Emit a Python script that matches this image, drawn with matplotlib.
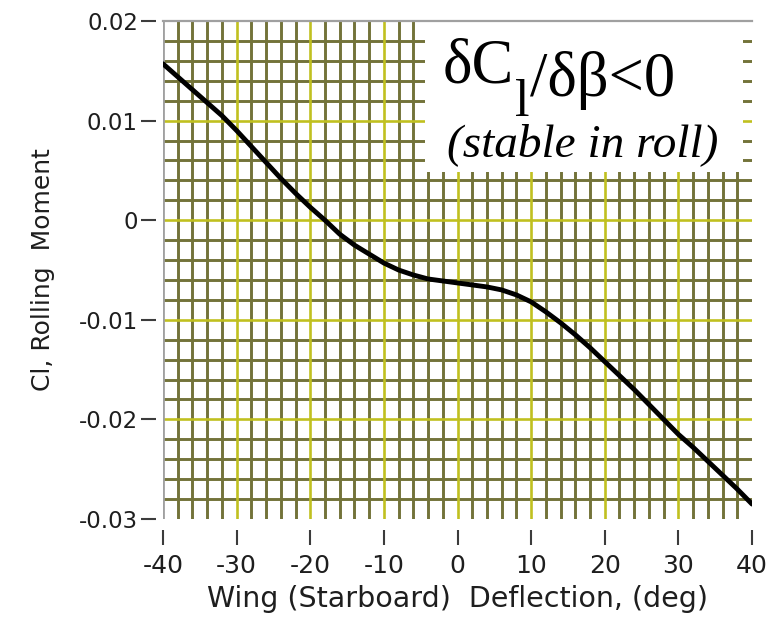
import numpy as np
import matplotlib
matplotlib.use("Agg")
import matplotlib.pyplot as plt
from matplotlib.patches import Rectangle

# Rolling moment coefficient vs. starboard wing deflection
deflection_deg = [-40, -38, -36, -34, -32, -30, -28, -26, -24, -22, -20,
                  -18, -16, -14, -12, -10, -8, -6, -4, -2, 0,
                  2, 4, 6, 8, 10, 12, 14, 16, 18, 20,
                  22, 24, 26, 28, 30, 32, 34, 36, 38, 40]
cl_rolling = [0.0157, 0.0144, 0.0131, 0.0118, 0.0105, 0.0090, 0.0074,
              0.0058, 0.0042, 0.0027, 0.0013,
              0.0000, -0.0014, -0.0025, -0.0034, -0.0043, -0.0050,
              -0.0055, -0.0059, -0.0061, -0.0063,
              -0.0065, -0.0067, -0.0070, -0.0075, -0.0082, -0.0092,
              -0.0103, -0.0115, -0.0128, -0.0142,
              -0.0156, -0.0170, -0.0185, -0.0200, -0.0215, -0.0228,
              -0.0242, -0.0256, -0.0270, -0.0285]

x_ticks = [-40, -30, -20, -10, 0, 10, 20, 30, 40]
x_tick_labels = ["-40", "-30", "-20", "-10", "0", "10", "20", "30", "40"]
y_ticks = [0.02, 0.01, 0.0, -0.01, -0.02, -0.03]
y_tick_labels = ["0.02", "0.01", "0", "-0.01", "-0.02", "-0.03"]

x_min, x_max = -40, 40
y_min, y_max = -0.03, 0.02

minor_olive = "#737339"
major_yellow = "#c0c020"
frame_gray = "#a0a0a0"
tick_dark = "#3c3c3c"
text_dark = "#1e1e1e"

fig = plt.figure(figsize=(7.79, 6.23), dpi=100)
ax = fig.add_axes([163 / 779, 1 - 519 / 623, 589 / 779, 498 / 623])
ax.set_xlim(x_min, x_max)
ax.set_ylim(y_min, y_max)

# grid: fine olive lines every 2 deg / 0.002, yellow every 10 deg / 0.01
x_minor = [v for v in np.arange(-38, 40, 2) if v % 10 != 0]
x_major = [v for v in x_ticks if x_min < v < x_max]
y_minor = [v for v in np.round(np.arange(-0.028, 0.0200, 0.002), 4)
           if abs(round(v * 100) - v * 100) > 1e-6]
y_major = [v for v in y_ticks if y_min < v < y_max]

ax.vlines(x_minor, y_min, y_max, colors=minor_olive, linewidth=2.1, zorder=1)
ax.hlines(y_minor, x_min, x_max, colors=minor_olive, linewidth=2.1, zorder=1)
ax.vlines(x_major, y_min, y_max, colors=major_yellow, linewidth=1.9, zorder=1.2)
ax.hlines(y_major, x_min, x_max, colors=major_yellow, linewidth=1.9, zorder=1.2)
ax.axvline(x_min, color=frame_gray, linewidth=2.0, zorder=1.5)

ax.plot(deflection_deg, cl_rolling, color="black", linewidth=3.5,
        solid_capstyle="round", solid_joinstyle="round", zorder=3)

# annotation panel in the upper right
ax.add_patch(Rectangle((0.445, 0.697), 0.54, 0.315, transform=ax.transAxes,
                       facecolor="white", edgecolor="none", zorder=4,
                       clip_on=False))
serif = "Liberation Serif"
t_head = ax.text(0.475, 0.877, "δC", transform=ax.transAxes, fontsize=45,
                 family=serif, color="black", ha="left", va="baseline",
                 zorder=5)
t_sub = ax.annotate("l", xy=(1, 0), xycoords=t_head, xytext=(0.5, -14),
                    textcoords="offset points", fontsize=38, family=serif,
                    color="black", ha="left", va="baseline", zorder=5,
                    annotation_clip=False)
ax.annotate("/δβ<0", xy=(1, 0), xycoords=(t_sub, t_head), xytext=(0.5, 0),
            textcoords="offset points", fontsize=45, family=serif,
            color="black", ha="left", va="baseline", zorder=5,
            annotation_clip=False)
ax.text(0.482, 0.729, "(stable in roll)", transform=ax.transAxes,
        fontsize=34, family=serif, style="italic",
        color="black", ha="left", va="baseline", zorder=5)

# frame and ticks
for side in ("right", "bottom", "left"):
    ax.spines[side].set_color("none")
ax.spines["top"].set_color(frame_gray)
ax.spines["top"].set_linewidth(1.6)
ax.spines["top"].set_zorder(6)
ax.spines["left"].set_position(("outward", 5))
ax.spines["bottom"].set_position(("outward", 8))

ax.set_xticks(x_ticks)
ax.set_xticklabels(x_tick_labels)
ax.set_yticks(y_ticks)
ax.set_yticklabels(y_tick_labels)
ax.tick_params(axis="y", direction="out", length=11, width=1.5,
               color=tick_dark, labelsize=16.5, pad=2, labelcolor=text_dark)
ax.tick_params(axis="x", direction="out", length=11, width=1.5,
               color=tick_dark, labelsize=18, pad=6, labelcolor=text_dark)

ax.set_xlabel("Wing (Starboard)  Deflection, (deg)", fontsize=20.5,
              color=text_dark, labelpad=5)
ax.set_ylabel("Cl, Rolling  Moment", fontsize=18, color=text_dark,
              labelpad=17)

fig.savefig("out.png", dpi=100, facecolor="white")
